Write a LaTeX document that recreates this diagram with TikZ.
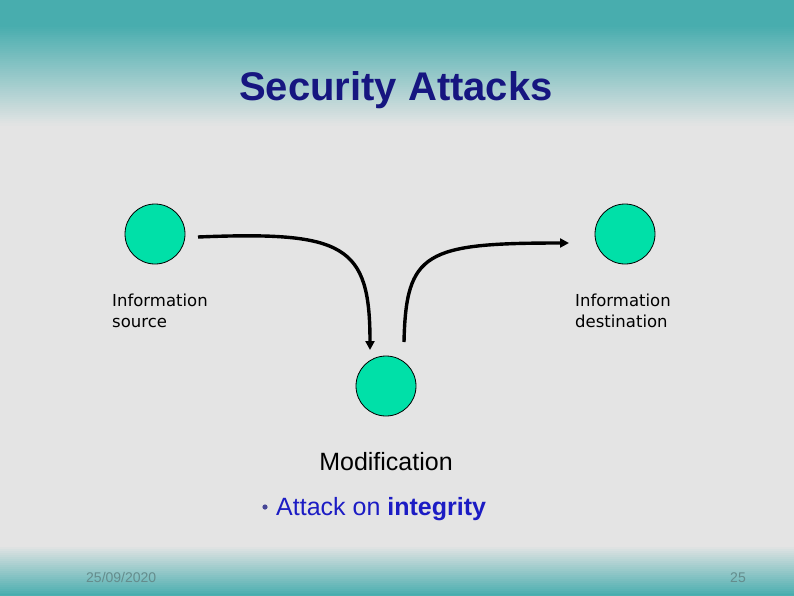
\documentclass[tikz,border=0pt]{standalone}
\usepackage{fontspec}
\setmainfont{Liberation Sans}
\newfontfamily\labfont{DejaVu Sans}
\usetikzlibrary{arrows.meta}
\definecolor{teal1}{RGB}{72,173,174}
\definecolor{bggray}{RGB}{228,228,228}
\definecolor{titlec}{RGB}{22,22,128}
\definecolor{bluetext}{RGB}{28,28,196}
\definecolor{nodefill}{RGB}{0,224,168}
\definecolor{footc}{RGB}{100,140,140}
\tikzset{
  blob/.style={circle,draw=black,line width=0.8pt,fill=nodefill,minimum size=60pt,inner sep=0pt},
  flow/.style={line width=3.4pt,-{Triangle[length=9pt,width=9pt]}},
  lab/.style={font=\labfont\fontsize{16.5}{20}\selectfont,anchor=base west,inner sep=0pt},
}
\begin{document}
\begin{tikzpicture}[x=1pt,y=-1pt]
\useasboundingbox (0,0) rectangle (794,595);
\fill[bggray] (0,0) rectangle (794,595);
\fill[teal1] (0,0) rectangle (794,26);
\foreach \i in {0,...,49} {
  \pgfmathsetmacro\p{100-\i*2}
  \fill[teal1!\p!bggray] (0,25+\i*2) rectangle (794,27.6+\i*2);
}
\foreach \i in {0,...,24} {
  \pgfmathsetmacro\p{\i*4}
  \fill[teal1!\p!bggray] (0,545+\i*2) rectangle (794,547.6+\i*2);
}
\fill[teal1] (0,594) rectangle (794,595);

\node[font=\bfseries\fontsize{40}{48}\selectfont,text=titlec,anchor=base,inner sep=0pt] (title) at (396,100) {Security Attacks};

\node[blob] (src) at (155,234) {};
\node[blob] (dst) at (625,234) {};
\node[blob] (mod) at (386,386) {};

\coordinate (a1s) at (198,237);
\coordinate (a1e) at (370,350);
\coordinate (a2s) at (404,342);
\coordinate (a2e) at (569,243);
\draw[flow] (a1s) .. controls (345,231) and (370,245) .. (a1e);
\draw[flow] (a2s) .. controls (406,252) and (425,243) .. (a2e);

\node[lab] (srcA) at (112,306) {Information};
\node[lab] (srcB) at (112,327) {source};
\node[lab] (dstA) at (575,306) {Information};
\node[lab] (dstB) at (575,327) {destination};

\node[font=\fontsize{25}{30}\selectfont,anchor=base,inner sep=0pt] (modl) at (386,470) {Modification};
\fill[color={rgb,255:red,70;green,70;blue,150}] (265,507) circle (2.6);
\node[font=\fontsize{25}{30}\selectfont,text=bluetext,anchor=base west,inner sep=0pt] (att) at (276,515) {Attack on \textbf{integrity}};

\node[font=\fontsize{14}{16}\selectfont,text=footc,anchor=base west,inner sep=0pt] (date) at (86,582) {25/09/2020};
\node[font=\fontsize{14}{16}\selectfont,text=footc,anchor=base east,inner sep=0pt] (page) at (746,582) {25};
\end{tikzpicture}
\end{document}
